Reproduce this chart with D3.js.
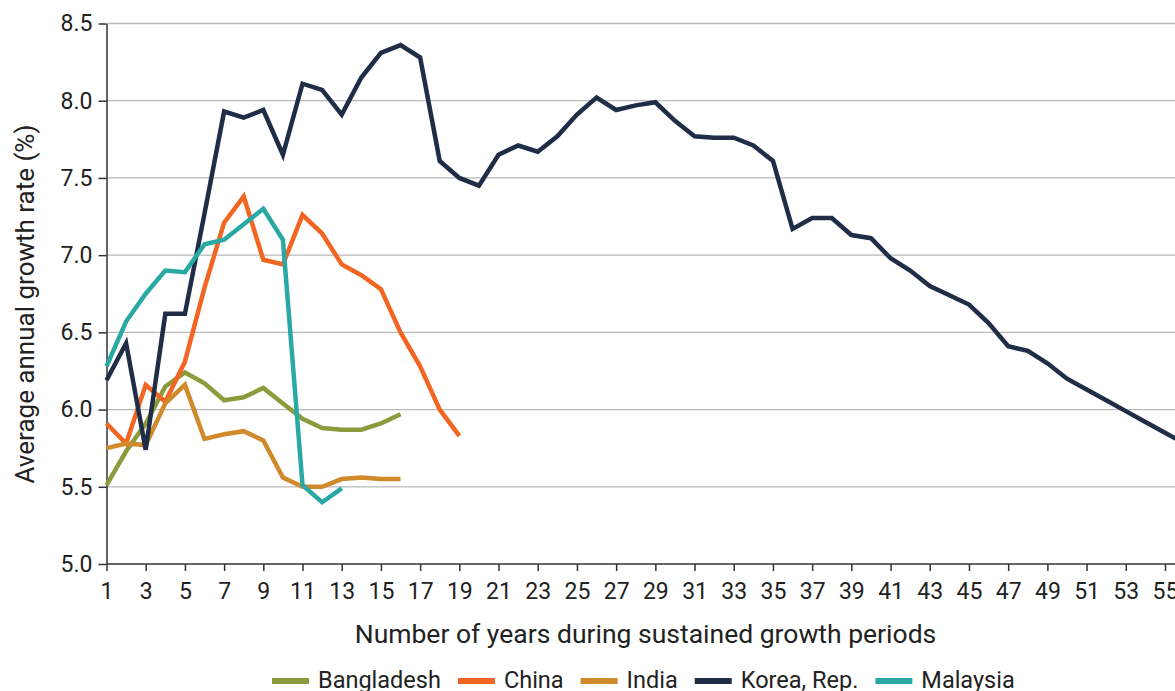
<!DOCTYPE html>
<html>
<head>
<meta charset="utf-8">
<script src="https://cdn.jsdelivr.net/npm/d3@7"></script>
<style>
  body { margin: 0; background: #fff; }
  svg { display: block; font-family: Roboto, "Noto Sans", sans-serif; }
</style>
</head>
<body>
<script>
// sustained growth periods: average annual growth rate by year of the episode

var bangladesh = [5.51, 5.73, 5.91, 6.15, 6.24, 6.17, 6.06, 6.08, 6.14, 6.04, 5.94, 5.88, 5.87, 5.87, 5.91, 5.97];
var china = [5.91, 5.78, 6.16, 6.05, 6.31, 6.79, 7.21, 7.38, 6.97, 6.94, 7.26, 7.14, 6.94, 6.87, 6.78, 6.50, 6.28, 6.00, 5.83];
var india = [5.75, 5.78, 5.77, 6.04, 6.16, 5.81, 5.84, 5.86, 5.80, 5.56, 5.50, 5.50, 5.55, 5.56, 5.55, 5.55];
var korea = [6.19, 6.43, 5.74, 6.62, 6.62, 7.27, 7.93, 7.89, 7.94, 7.65, 8.11, 8.07, 7.91, 8.15, 8.31, 8.36, 8.28, 7.61, 7.50, 7.45,
             7.65, 7.71, 7.67, 7.77, 7.91, 8.02, 7.94, 7.97, 7.99, 7.87, 7.77, 7.76, 7.76, 7.71, 7.61, 7.17, 7.24, 7.24, 7.13, 7.11,
             6.98, 6.90, 6.80, 6.74, 6.68, 6.56, 6.41, 6.38, 6.30, 6.20, 6.13, 6.06, 5.99, 5.92, 5.85, 5.78];
var malaysia = [6.28, 6.57, 6.75, 6.90, 6.89, 7.07, 7.10, 7.20, 7.30, 7.10, 5.51, 5.40, 5.49];

var seriesNames = ["Bangladesh", "China", "India", "Korea, Rep.", "Malaysia"];
var seriesValues = [bangladesh, china, india, korea, malaysia];
var seriesColors = ["#8c9c3c", "#f26522", "#d08a2c", "#1f2d47", "#2aa9a4"];

var yTicks = [5.0, 5.5, 6.0, 6.5, 7.0, 7.5, 8.0, 8.5];
var xTicks = d3.range(1, 56, 2); // 1, 3, ... 55

var width = 1175;
var height = 691;

var x = d3.scaleLinear()
        .domain([1, 55])
        .range([106.5, 1165]);

var y = d3.scaleLinear()
        .domain([5, 8.5])
        .range([564, 23.5]);

var svg = d3.select("body")
            .append("svg")
            .attr("width", width)
            .attr("height", height);

// horizontal gridlines
svg.append("g")
   .selectAll("line")
   .data(yTicks.slice(1))
   .enter()
     .append("line")
     .attr("x1", x(1))
     .attr("x2", width)
     .attr("y1", function(d) { return y(d); })
     .attr("y2", function(d) { return y(d); })
     .attr("stroke", "#b9b9b9")
     .attr("stroke-width", 1.3);

// y axis
var yAxis = d3.axisLeft(y)
              .tickValues(yTicks)
              .tickFormat(d3.format(".1f"))
              .tickSizeInner(8)
              .tickSizeOuter(0)
              .tickPadding(6);

var yg = svg.append("g")
            .attr("transform", "translate(" + x(1) + ",0)")
            .call(yAxis);

// x axis
var xAxis = d3.axisBottom(x)
              .tickValues(xTicks)
              .tickFormat(d3.format("d"))
              .tickSizeInner(7)
              .tickSizeOuter(0)
              .tickPadding(12);

var xg = svg.append("g")
            .attr("transform", "translate(0," + y(5) + ")")
            .call(xAxis);

xg.select(".domain").attr("d", "M" + x(1) + ",0H" + width);

[xg, yg].forEach(function(g) {
  g.select(".domain").attr("stroke", "#333").attr("stroke-width", 1.5);
  g.selectAll(".tick line").attr("stroke", "#333").attr("stroke-width", 1.5);
  g.selectAll(".tick text")
   .attr("fill", "#222")
   .style("font-size", "23px")
   .style("font-family", "Roboto, sans-serif");
});

// lines
var line = d3.line()
            .x(function(d, i) { return x(i + 1); })
            .y(function(d) { return y(d); });

svg.append("g")
   .selectAll("path")
   .data(seriesValues)
   .enter()
     .append("path")
     .attr("d", line)
     .attr("fill", "none")
     .attr("stroke", function(d, i) { return seriesColors[i]; })
     .attr("stroke-width", 4.5)
     .attr("stroke-linejoin", "miter");

// axis titles
svg.append("text")
   .attr("x", 645.5)
   .attr("y", 643)
   .attr("text-anchor", "middle")
   .attr("fill", "#222")
   .style("font-size", "26.5px")
   .text("Number of years during sustained growth periods");

svg.append("text")
   .attr("transform", "translate(34,304) rotate(-90)")
   .attr("text-anchor", "middle")
   .attr("fill", "#222")
   .style("font-size", "26px")
   .text("Average annual growth rate (%)");

// legend
var legend = svg.append("g");
var lx = 272;
seriesNames.forEach(function(name, i) {
  legend.append("line")
        .attr("x1", lx)
        .attr("x2", lx + 37)
        .attr("y1", 681)
        .attr("y2", 681)
        .attr("stroke", seriesColors[i])
        .attr("stroke-width", 6);
  var t = legend.append("text")
                .attr("x", lx + 46)
                .attr("y", 688)
                .attr("fill", "#222")
                .style("font-size", "23.5px")
                .text(name);
  lx = lx + 46 + t.node().getComputedTextLength() + 17;
});
</script>
</body>
</html>
